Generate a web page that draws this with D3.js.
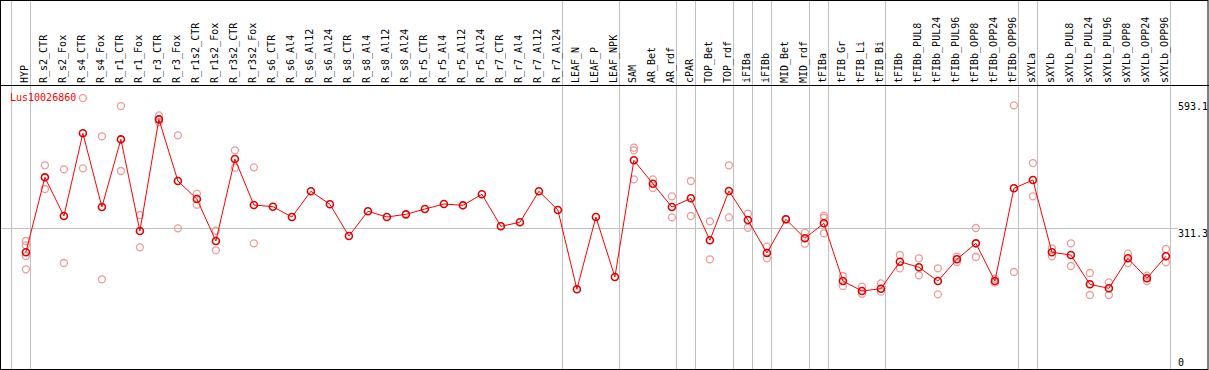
<!DOCTYPE html>
<html>
<head>
<meta charset="utf-8">
<script src="https://cdn.jsdelivr.net/npm/d3@7"></script>
<style>
  body { margin: 0; background: #fff; }
  text { font-family: "DejaVu Sans Mono", "Liberation Mono", monospace; font-size: 10px; }
</style>
</head>
<body>
<svg id="chart"></svg>
<script>
const geneName = "Lus10026860"

const categories = ["HYP", "R_s2_CTR", "R_s2_Fox", "R_s4_CTR", "R_s4_Fox", "R_r1_CTR", "R_r1_Fox", "R_r3_CTR", "R_r3_Fox",
  "R_r1s2_CTR", "R_r1s2_Fox", "R_r3s2_CTR", "R_r3s2_Fox", "R_s6_CTR", "R_s6_Al4", "R_s6_Al12", "R_s6_Al24",
  "R_s8_CTR", "R_s8_Al4", "R_s8_Al12", "R_s8_Al24", "R_r5_CTR", "R_r5_Al4", "R_r5_Al12", "R_r5_Al24",
  "R_r7_CTR", "R_r7_Al4", "R_r7_Al12", "R_r7_Al24", "LEAF_N", "LEAF_P", "LEAF_NPK", "SAM", "AR_Bet", "AR_rdf",
  "cPAR", "TOP_Bet", "TOP_rdf", "iFIBa", "iFIBb", "MID_Bet", "MID_rdf", "tFIBa", "tFIB_Gr", "tFIB_Li", "tFIB_Bi",
  "tFIBb", "tFIBb_PUL8", "tFIBb_PUL24", "tFIBb_PUL96", "tFIBb_OPP8", "tFIBb_OPP24", "tFIBb_OPP96",
  "sXYLa", "sXYLb", "sXYLb_PUL8", "sXYLb_PUL24", "sXYLb_PUL96", "sXYLb_OPP8", "sXYLb_OPP24", "sXYLb_OPP96"]

// mean expression per sample
const means = [258.0, 423.7, 338.2, 521.0, 358.1, 507.7, 305.0, 551.9, 415.6,
  375.8, 282.9, 464.2, 362.5, 358.8, 336.0, 392.8, 364.1,
  294.0, 348.6, 336.0, 341.9, 353.7, 364.7, 361.8, 386.2,
  315.4, 324.3, 392.8, 351.5, 176.2, 336.0, 203.4, 461.3, 409.6, 358.1,
  377.3, 284.5, 393.5, 329.4, 256.4, 330.9, 288.9, 322.1, 194.5, 172.4, 177.5,
  237.2, 224.8, 194.5, 242.5, 277.8, 194.5, 399.4,
  417.8, 258.0, 252.0, 187.2, 178.4, 244.7, 200.5, 249.1]

// individual replicates (empty where only the mean is shown)
const replicates = [
  [282.9, 273.4, 249.8, 220.4], [450.3, 397.9], [441.4, 234.3], [599.0, 443.6], [514.4, 198.3],
  [581.3, 437.7], [340.4, 269.0], [560.8, 546.0], [516.6, 311.0],
  [387.5, 363.2], [305.7, 262.4], [483.4, 445.0], [445.8, 277.8], [], [], [], [],
  [], [], [], [], [], [], [], [],
  [], [], [], [], [], [], [], [489.2, 483.4, 419.3], [419.3, 400.1], [381.7, 335.3],
  [415.6, 338.2], [326.5, 242.5], [450.3, 335.3], [343.3, 312.3], [270.3, 244.7], [331.5, 330.2],
  [301.3, 277.0], [338.9, 334.4, 300.0], [205.6, 183.5], [181.9, 166.4], [189.4, 170.9],
  [252.0, 222.6], [244.7, 207.1], [222.6, 165.1], [248.2, 236.5], [311.7, 247.6], [199.6, 190.8], [582.9, 214.4],
  [455.3, 381.7], [266.8, 249.1], [277.8, 227.7], [212.2, 163.6], [191.6, 163.6], [254.9, 234.3], [206.2, 194.5], [265.2, 235.9]
]

// first sample of each shaded group, lines are drawn at its left edge
const groupStarts = ["HYP", "R_s2_CTR", "LEAF_N", "SAM", "cPAR", "TOP_Bet", "iFIBa", "iFIBb", "MID_Bet",
  "tFIBa", "tFIB_Gr", "tFIBb", "sXYLa", "sXYLb"]

const yTicks = [0, 311.3, 593.1]
const yGrid = [311.3]

const width = 1209
const height = 370
const headerBottom = 85
const plotBottom = 369

const svg = d3.select("#chart")
  .attr("width", width)
  .attr("height", height)

const x = d3.scaleBand()
  .domain(categories)
  .range([11.3, 1170.3])
  .padding(0)
const offset = 14.6
const cx = c => x(c) + offset

const y = d3.scaleLinear()
  .domain([0, 593.1])
  .range([plotBottom, 100.7])

// vertical group lines
const vlines = groupStarts.map(c => x(c)).concat([x.range()[1]])
svg.append("g")
  .selectAll("line")
  .data(vlines)
  .enter()
  .append("line")
  .attr("x1", d => Math.round(d) + 0.5)
  .attr("x2", d => Math.round(d) + 0.5)
  .attr("y1", 0)
  .attr("y2", plotBottom)
  .attr("stroke", "#c0c0c0")

// horizontal grid
svg.append("g")
  .selectAll("line")
  .data(yGrid)
  .enter()
  .append("line")
  .attr("x1", 1)
  .attr("x2", 1178)
  .attr("y1", d => Math.round(y(d)) + 0.5)
  .attr("y2", d => Math.round(y(d)) + 0.5)
  .attr("stroke", "#c0c0c0")

// frame and header separator
svg.append("rect")
  .attr("x", 0.5)
  .attr("y", 0.5)
  .attr("width", 1207.5)
  .attr("height", plotBottom)
  .attr("fill", "none")
  .attr("stroke", "#000")
svg.append("line")
  .attr("x1", 0)
  .attr("x2", width)
  .attr("y1", headerBottom + 0.5)
  .attr("y2", headerBottom + 0.5)
  .attr("stroke", "#000")

// sample labels
svg.append("g")
  .selectAll("text")
  .data(categories)
  .enter()
  .append("text")
  .attr("transform", d => `translate(${cx(d) + 2}, ${headerBottom - 2}) rotate(-90)`)
  .attr("fill", "#000")
  .text(d => d)

// y tick labels
const clip = svg.append("clipPath").attr("id", "frameClip")
clip.append("rect").attr("x", 0).attr("y", 0).attr("width", 1207.5).attr("height", height)
svg.append("g")
  .attr("clip-path", "url(#frameClip)")
  .selectAll("text")
  .data(yTicks)
  .enter()
  .append("text")
  .attr("x", 1178)
  .attr("y", d => d == 0 ? y(d) - 3 : y(d) + 9)
  .attr("fill", "#000")
  .text(d => d)

// replicates
const repPoints = []
categories.forEach((c, i) => {
  replicates[i].forEach(v => repPoints.push({ cat: c, value: v }))
})
svg.append("g")
  .selectAll("circle")
  .data(repPoints)
  .enter()
  .append("circle")
  .attr("cx", d => cx(d.cat))
  .attr("cy", d => y(d.value))
  .attr("r", 3.5)
  .attr("fill", "none")
  .attr("stroke", "#f09a9a")
  .attr("stroke-width", 1.3)

// mean line
const meanData = categories.map((c, i) => ({ cat: c, value: means[i] }))
svg.append("path")
  .datum(meanData)
  .attr("d", d3.line().x(d => cx(d.cat)).y(d => y(d.value)))
  .attr("fill", "none")
  .attr("stroke", "#ff0000")
  .attr("stroke-width", 1)

svg.append("g")
  .selectAll("circle")
  .data(meanData)
  .enter()
  .append("circle")
  .attr("cx", d => cx(d.cat))
  .attr("cy", d => y(d.value))
  .attr("r", 3.5)
  .attr("fill", "none")
  .attr("stroke", "#e00000")
  .attr("stroke-width", 1.6)

// gene name
svg.append("text")
  .attr("x", 10)
  .attr("y", 101)
  .attr("fill", "#ff0000")
  .text(geneName)
</script>
</body>
</html>
